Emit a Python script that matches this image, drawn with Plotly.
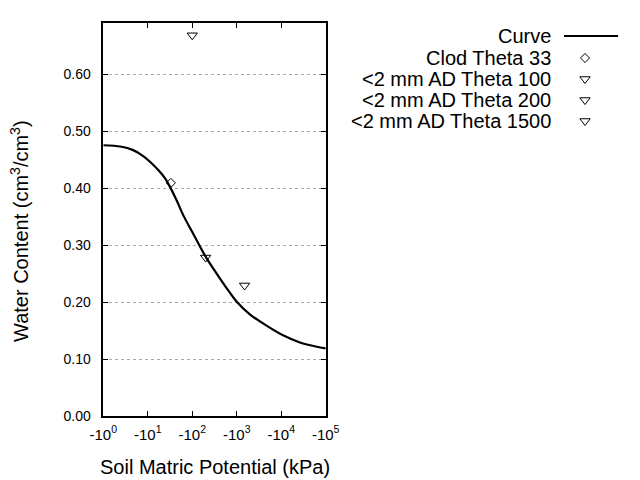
import plotly.graph_objects as go

# Data (matric potential magnitude in kPa; plotted with negative labels)
curve_h = [1, 2.4, 4.7, 7.9, 11.2, 17.4, 24.5, 31.6, 44.7, 63, 98, 148, 195, 295, 590,
           1000, 2000, 4680, 11000, 26300, 63100, 100000]
curve_theta = [0.475, 0.4728, 0.4665, 0.456, 0.446, 0.431, 0.417, 0.402, 0.378, 0.352, 0.324,
               0.298, 0.281, 0.259, 0.2245, 0.2005, 0.178, 0.1585, 0.1415, 0.129, 0.1215, 0.1188]

clod_h = [33]
clod_theta = [0.409]
ad100_h = [100]
ad100_theta = [0.668]
ad200_h = [200]
ad200_theta = [0.278]
ad1500_h = [1500]
ad1500_theta = [0.229]

x_tickvals = [1, 10, 100, 1000, 10000, 100000]
x_ticktext = ["-10<sup>0</sup>", "-10<sup>1</sup>", "-10<sup>2</sup>", "-10<sup>3</sup>", "-10<sup>4</sup>", "-10<sup>5</sup>"]
y_tickvals = [0.0, 0.1, 0.2, 0.3, 0.4, 0.5, 0.6]

legend_labels = ["Curve", "Clod Theta 33", "<2 mm AD Theta 100", "<2 mm AD Theta 200", "<2 mm AD Theta 1500"]

FONT = "Liberation Sans, Arial, sans-serif"
W, H = 640, 480
L, R, T, B = 103.3, 325.7, 23.3, 416.0

fig = go.Figure()
fig.add_trace(go.Scatter(x=curve_h, y=curve_theta, mode="lines",
                         line=dict(color="black", width=2.2, shape="spline", smoothing=0.8),
                         showlegend=False))
fig.add_trace(go.Scatter(x=clod_h, y=clod_theta, mode="markers",
                         marker=dict(symbol="diamond-open", size=7, color="black", line=dict(width=1)),
                         showlegend=False))
for hx, ty in [(ad100_h, ad100_theta), (ad200_h, ad200_theta), (ad1500_h, ad1500_theta)]:
    fig.add_trace(go.Scatter(x=hx, y=ty, mode="markers",
                             marker=dict(symbol="triangle-down-open", size=9, color="black", line=dict(width=1)),
                             showlegend=False))

# custom legend (text right-aligned, key on the right) on a full-page pixel axis
row_y = [36, 58, 79, 100, 121]
text_x = 553
sym_x = 585
for lab, yy in zip(legend_labels, row_y):
    fig.add_annotation(x=text_x, y=yy, xref="x2", yref="y2", text=lab.replace("<", "&lt;"),
                       showarrow=False, xanchor="right", yanchor="middle",
                       font=dict(family=FONT, size=20, color="black"))
fig.add_trace(go.Scatter(x=[564, 618], y=[row_y[0], row_y[0]], xaxis="x2", yaxis="y2", mode="lines",
                         line=dict(color="black", width=2), showlegend=False, hoverinfo="skip"))
fig.add_trace(go.Scatter(x=[sym_x], y=[row_y[1]], xaxis="x2", yaxis="y2", mode="markers",
                         marker=dict(symbol="diamond-open", size=7, color="black", line=dict(width=1)),
                         showlegend=False, hoverinfo="skip"))
fig.add_trace(go.Scatter(x=[sym_x] * 3, y=row_y[2:], xaxis="x2", yaxis="y2", mode="markers",
                         marker=dict(symbol="triangle-down-open", size=9, color="black", line=dict(width=1)),
                         showlegend=False, hoverinfo="skip"))

# axis titles
fig.add_annotation(x=214.5, y=467, xref="x2", yref="y2", text="Soil Matric Potential (kPa)",
                   showarrow=False, xanchor="center", yanchor="middle",
                   font=dict(family=FONT, size=20, color="black"))
fig.add_annotation(x=19, y=231, xref="x2", yref="y2", text="Water Content (cm<sup>3</sup>/cm<sup>3</sup>)",
                   showarrow=False, xanchor="center", yanchor="middle", textangle=-90,
                   font=dict(family=FONT, size=20, color="black"))

fig.update_layout(
    width=W, height=H, margin=dict(l=0, r=0, t=0, b=0, autoexpand=False),
    paper_bgcolor="white", plot_bgcolor="rgba(0,0,0,0)",
    xaxis=dict(type="log", range=[0, 5], domain=[L / W, R / W],
               tickvals=x_tickvals, ticktext=x_ticktext,
               ticks="inside", ticklen=5, tickcolor="black", showline=True, linecolor="black",
               linewidth=1.5, mirror="ticks", showgrid=False, zeroline=False, automargin=False,
               tickfont=dict(family=FONT, size=15, color="black"), ticklabelstandoff=4,
               anchor="y"),
    yaxis=dict(range=[0, 0.689], domain=[1 - B / H, 1 - T / H],
               tickvals=y_tickvals, tickformat=".2f",
               ticks="inside", ticklen=5, tickcolor="black", showline=True, linecolor="black",
               linewidth=1.5, mirror="ticks", showgrid=True, gridcolor="#a8a8a8", griddash="dot",
               gridwidth=1, zeroline=False, automargin=False,
               tickfont=dict(family=FONT, size=14, color="black"), ticklabelstandoff=8,
               anchor="x"),
    xaxis2=dict(domain=[0, 1], range=[0, W], visible=False, anchor="y2", fixedrange=True),
    yaxis2=dict(domain=[0, 1], range=[H, 0], visible=False, anchor="x2", fixedrange=True),
)

fig.write_html("out.html")
